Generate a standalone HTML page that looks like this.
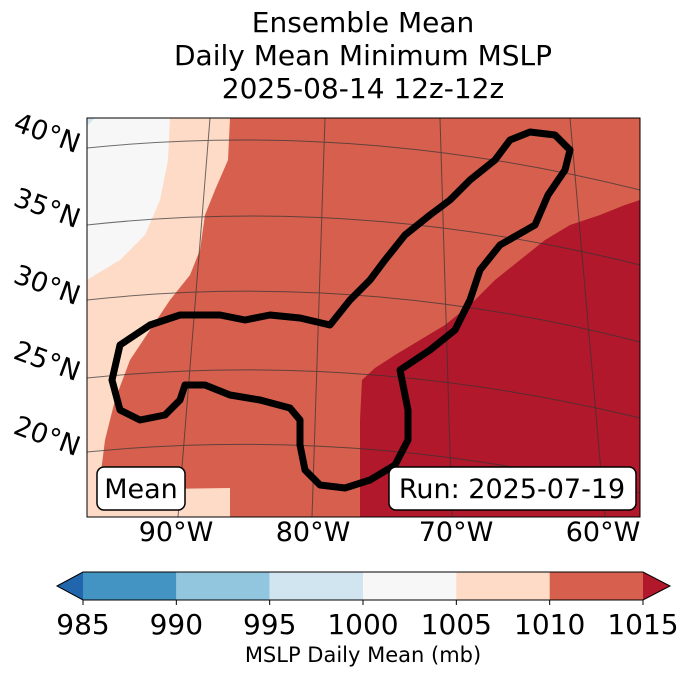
<!DOCTYPE html>
<html><head><meta charset="utf-8"><style>
body{margin:0;background:#fff;font-family:"DejaVu Sans",sans-serif;}
</style></head><body>
<svg width="688" height="674" viewBox="0 0 688 674" xmlns="http://www.w3.org/2000/svg" font-family="DejaVu Sans, sans-serif">
<g font-size="28" text-anchor="middle" fill="#000">
<text x="363" y="32">Ensemble Mean</text>
<text x="363" y="65">Daily Mean Minimum MSLP</text>
<text x="363" y="98">2025-08-14 12z-12z</text>
</g>
<defs><clipPath id="mc"><rect x="87" y="118" width="553" height="399"/></clipPath></defs>
<g clip-path="url(#mc)">
<rect x="87" y="118" width="553" height="399" fill="#d6604d"/>
<path d="M87,118 L230,118 L228,160 L215,190 L205,215 L200,250 L190,275 L170,300 L150,330 L130,360 L115,400 L105,440 L100,480 L87,517 Z" fill="#fddbc7"/>
<path d="M87,118 L170,118 L168,160 L160,200 L145,235 L120,260 L95,275 L87,280 Z" fill="#f7f7f7"/>
<path d="M87,118 L95,118 L87,126 Z" fill="#d1e5f0"/>
<path d="M87,490 L230,488 L230,517 L87,517 Z" fill="#fddbc7"/>
<path d="M640,200 L625,205 L600,215 L570,225 L545,240 L520,260 L495,280 L470,305 L445,325 L420,340 L395,355 L375,368 L362,380 L360,420 L360,517 L640,517 Z" fill="#b2182b"/>
<g stroke="#333" stroke-width="1" fill="none" opacity="0.7">
<path d="M87,148 Q360,120 640,190"/>
<path d="M87,225 Q360,195 640,265"/>
<path d="M87,300 Q360,270 640,342"/>
<path d="M87,378 Q360,350 640,418"/>
<path d="M87,452 Q360,425 640,493"/>
<path d="M178,517 L210,118"/>
<path d="M312,517 L325,118"/>
<path d="M452,517 L440,118"/>
<path d="M605,517 L570,118"/>
</g>
<path d="M330,325 L300,318 L270,315 L245,320 L220,315 L180,315 L150,325 L120,345 L112,380 L120,410 L140,420 L165,415 L180,400 L185,385 L205,385 L230,395 L260,400 L290,408 L300,420 L300,445 L305,470 L320,485 L345,488 L370,480 L395,465 L408,440 L408,410 L400,370 L430,350 L455,330 L470,300 L480,270 L500,245 L535,225 L548,195 L565,170 L570,150 L555,135 L530,132 L510,140 L495,160 L470,180 L450,200 L430,215 L405,235 L385,260 L370,280 L350,300 Z" fill="none" stroke="#000" stroke-width="7" stroke-linejoin="round"/>
</g>
<rect x="87" y="118" width="553" height="399" fill="none" stroke="#000" stroke-width="1"/>
<g font-size="27" fill="#000">
<text transform="translate(12,130) rotate(20)">40°N</text>
<text transform="translate(12,205) rotate(20)">35°N</text>
<text transform="translate(12,282) rotate(20)">30°N</text>
<text transform="translate(12,358) rotate(20)">25°N</text>
<text transform="translate(12,433) rotate(20)">20°N</text>
</g>
<g font-size="27" fill="#000" text-anchor="middle">
<text x="176" y="541">90°W</text>
<text x="313" y="541">80°W</text>
<text x="456" y="541">70°W</text>
<text x="603" y="541">60°W</text>
</g>
<g>
<rect x="97" y="467" width="88" height="43" rx="7" fill="#fff" stroke="#000" stroke-width="1.5"/>
<text x="141" y="498" font-size="27" text-anchor="middle">Mean</text>
</g>
<g>
<rect x="389" y="467" width="247" height="43" rx="7" fill="#fff" stroke="#000" stroke-width="1.5"/>
<text x="512" y="498" font-size="27" text-anchor="middle">Run: 2025-07-19</text>
</g>
<g id="cbar"></g>
<text x="363" y="662" font-size="21" text-anchor="middle">MSLP Daily Mean (mb)</text>
</svg>
<script>
const levels=[985,990,995,1000,1005,1010,1015];
const colors=['#4393c3','#92c5de','#d1e5f0','#f7f7f7','#fddbc7','#d6604d'];
const extColors=['#2166ac','#b2182b'];
const ns='http://www.w3.org/2000/svg';
const g=document.getElementById('cbar');
const x0=83,x1=643,y0=572,y1=600;
const sx=v=>x0+(v-levels[0])/(levels[levels.length-1]-levels[0])*(x1-x0);
function mk(t,a){const e=document.createElementNS(ns,t);for(const k in a)e.setAttribute(k,a[k]);g.appendChild(e);return e;}
let l=mk('polygon',{points:`${x0},${y0} 57,${(y0+y1)/2} ${x0},${y1}`,fill:extColors[0]});


let r=mk('polygon',{points:`${x1},${y0} 670,${(y0+y1)/2} ${x1},${y1}`,fill:extColors[1]});


for(let i=0;i<colors.length;i++){
 const e=mk('rect',{x:sx(levels[i]),y:y0,width:sx(levels[i+1])-sx(levels[i]),height:y1-y0,fill:colors[i]});
 
 
}
const o=mk('polygon',{points:`57,${(y0+y1)/2} ${x0},${y0} ${x1},${y0} 670,${(y0+y1)/2} ${x1},${y1} ${x0},${y1}`,fill:'none',stroke:'#000','stroke-width':1});


levels.forEach(v=>{
 const t=mk('line',{x1:sx(v),x2:sx(v),y1:y1,y2:y1+5,stroke:'#000'});
 
 
 const tx=mk('text',{x:sx(v),y:634,'font-size':28,'text-anchor':'middle'});
 tx.textContent=v;
 
 
});
</script>
</body></html>
